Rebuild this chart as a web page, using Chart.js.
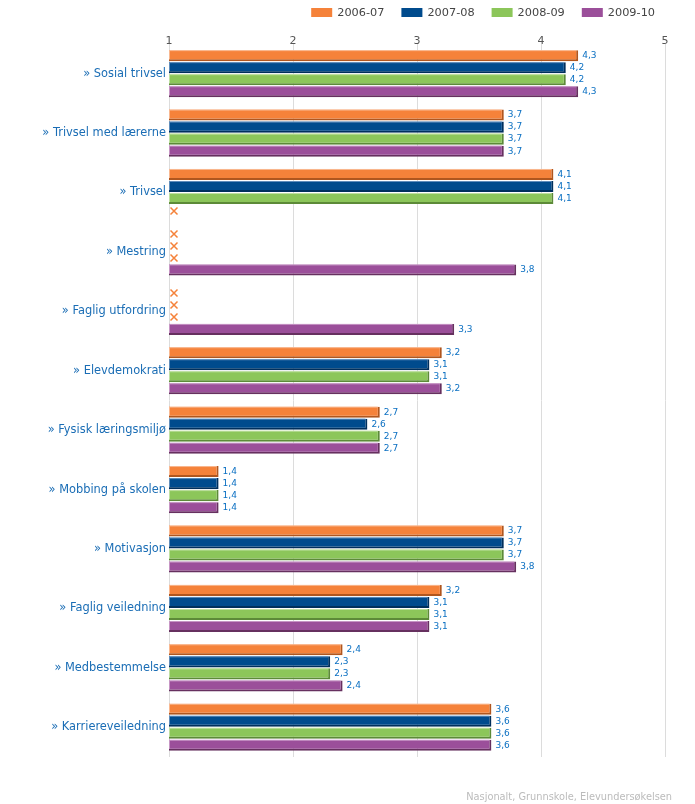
<!DOCTYPE html>
<html>
<head>
<meta charset="utf-8">
<script src="https://cdn.jsdelivr.net/npm/chart.js@4/dist/chart.umd.min.js"></script>
<style>
  html, body { margin: 0; padding: 0; background: #fff; }
  #wrap { width: 695px; height: 804px; }
</style>
</head>
<body>
<div id="wrap"><canvas id="barChart"></canvas></div>
<script>
var categories = ["» Sosial trivsel", "» Trivsel med lærerne", "» Trivsel", "» Mestring",
  "» Faglig utfordring", "» Elevdemokrati", "» Fysisk læringsmiljø", "» Mobbing på skolen",
  "» Motivasjon", "» Faglig veiledning", "» Medbestemmelse", "» Karriereveiledning"];
var years = ["2006-07", "2007-08", "2008-09", "2009-10"];
var s0607 = [4.3, 3.7, 4.1, null, null, 3.2, 2.7, 1.4, 3.7, 3.2, 2.4, 3.6];
var s0708 = [4.2, 3.7, 4.1, null, null, 3.1, 2.6, 1.4, 3.7, 3.1, 2.3, 3.6];
var s0809 = [4.2, 3.7, 4.1, null, null, 3.1, 2.7, 1.4, 3.7, 3.1, 2.3, 3.6];
var s0910 = [4.3, 3.7, null, 3.8, 3.3, 3.2, 2.7, 1.4, 3.8, 3.1, 2.4, 3.6];
var xTicks = [1, 2, 3, 4, 5];
var footer = "Nasjonalt, Grunnskole, Elevundersøkelsen";

var fills = ["#f5823a", "#004b8d", "#8cc65a", "#9b4f9a"];
var darks = ["#b0561e", "#002f5c", "#5c8a38", "#66305f"];
var lights = ["#f9b890", "#5f8dbb", "#bfe0a2", "#c796c5"];
var FONT = "'DejaVu Sans', Verdana, sans-serif";

// value labels, missing-value crosses, light top edge, axis labels, legend and footer
var barExtras = {
  id: 'barExtras',
  afterDatasetsDraw: function (chart) {
    var ctx = chart.ctx;
    var xs = chart.scales.x;
    var left = chart.chartArea.left;
    ctx.save();
    ctx.font = "9px " + FONT;
    ctx.textBaseline = 'middle';
    ctx.textAlign = 'left';
    chart.data.datasets.forEach(function (ds, di) {
      var meta = chart.getDatasetMeta(di);
      meta.data.forEach(function (bar, i) {
        var v = ds.data[i];
        if (v === null) {
          var cx = xs.getPixelForValue(1) + 5, cy = Math.round(bar.y);
          ctx.strokeStyle = "#f5823a";
          ctx.lineWidth = 1.5;
          ctx.beginPath();
          ctx.moveTo(cx - 3.5, cy - 3.5); ctx.lineTo(cx + 3.5, cy + 3.5);
          ctx.moveTo(cx + 3.5, cy - 3.5); ctx.lineTo(cx - 3.5, cy + 3.5);
          ctx.stroke();
          return;
        }
        var top = bar.y - bar.height / 2;
        ctx.fillStyle = lights[di];
        ctx.fillRect(left, top, bar.x - left - 2, 1);
        ctx.fillRect(left, top, 1, bar.height - 2);
        ctx.fillStyle = "#0a6fc2";
        ctx.fillText(String(v).replace('.', ','), bar.x + 4, bar.y);
      });
    });
    ctx.restore();
  },
  afterDraw: function (chart) {
    var ctx = chart.ctx;
    var xs = chart.scales.x;
    ctx.save();
    ctx.textBaseline = 'middle';
    // top axis tick labels
    ctx.font = "11px " + FONT;
    ctx.textAlign = 'center';
    ctx.fillStyle = "#555";
    xTicks.forEach(function (t) {
      ctx.fillText(String(t), xs.getPixelForValue(t), 41);
    });
    // legend
    ctx.font = "11.3px " + FONT;
    ctx.textAlign = 'left';
    var x = 655;
    for (var i = years.length - 1; i >= 0; i--) {
      var w = ctx.measureText(years[i]).width;
      ctx.fillStyle = "#444";
      ctx.fillText(years[i], x - w, 13);
      ctx.fillStyle = fills[i];
      ctx.fillRect(x - w - 26, 8, 21, 9);
      x = x - w - 26 - 17;
    }
    // footer
    ctx.font = "9.8px " + FONT;
    ctx.textAlign = 'right';
    ctx.fillStyle = "#bbb";
    ctx.fillText(footer, 672, 797);
    ctx.restore();
  }
};

var ctxB = document.getElementById("barChart").getContext('2d');
var myBarChart = new Chart(ctxB, {
  type: 'bar',
  data: {
    labels: categories,
    datasets: [s0607, s0708, s0809, s0910].map(function (d, i) {
      return {
        label: years[i],
        data: d,
        backgroundColor: fills[i],
        borderColor: darks[i],
        borderWidth: { top: 0, left: 0, right: 2, bottom: 2 },
        borderSkipped: false,
        categoryPercentage: 0.81,
        barPercentage: 0.92
      };
    })
  },
  options: {
    indexAxis: 'y',
    responsive: true,
    maintainAspectRatio: false,
    animation: false,
    layout: { padding: { left: 0, right: 30, top: 44, bottom: 47 } },
    scales: {
      x: {
        position: 'top',
        min: 1,
        max: 5,
        afterBuildTicks: function (axis) {
          axis.ticks = xTicks.map(function (v) { return { value: v }; });
        },
        afterFit: function (axis) { axis.height = 0; },
        border: { display: false },
        grid: { color: "#dcdcdc", lineWidth: 1, drawTicks: false },
        ticks: { display: false }
      },
      y: {
        border: { display: false },
        grid: { display: false, drawTicks: false },
        afterFit: function (axis) { axis.width = 169; },
        ticks: { color: "#1a6db5", font: { family: FONT, size: 11.4 }, padding: 3 }
      }
    },
    plugins: {
      legend: { display: false },
      title: { display: false },
      tooltip: { enabled: false }
    }
  },
  plugins: [barExtras]
});
</script>
</body>
</html>
